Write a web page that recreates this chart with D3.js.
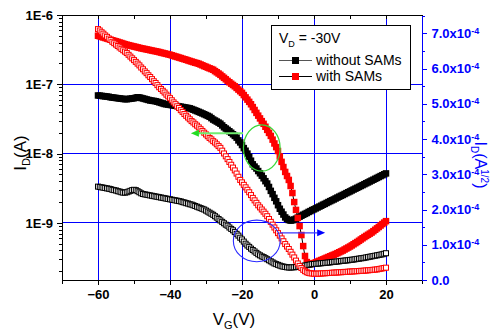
<!DOCTYPE html>
<html><head><meta charset="utf-8">
<script src="https://cdn.jsdelivr.net/npm/d3@7"></script>
<style>
body{margin:0;background:#fff;}
svg{display:block;font-family:Arial,"Liberation Sans",sans-serif;}
</style></head>
<body>
<script>
// ---- data ----
// gate voltage sweep (V), 0.5 V steps from -60 to 20
const vgStart = -60, vgStep = 0.5, vgCount = 161;
const vg = d3.range(vgCount).map(i => vgStart + i * vgStep);

// I_D (nA), log plot, without SAMs (filled black)
const idNoSamNA = [69,68.5,68,67.5,67,66.5,66,65,64.5,64,
63.5,63,62.5,62,61.5,61,61,61.5,62,62.5,
63,64,65,64.5,63.5,62.5,61.5,60.5,59.5,58.5,
58,57.5,57,56,55,54,53,52,51.5,51,
50.5,50,49.5,49,48.5,48,47.5,47,46.5,46,
45.5,45,44,43,42,41,40,39,38,37,
36,35,34,32.5,31,30,29,28,27,25.5,
24,23,22,21,20,19,18,17,15.5,14.5,
13.3,12,11,10,9,7.9,7,6.5,6.1,5.6,
5.2,4.8,4.4,4,3.7,3.3,2.9,2.6,2.3,2.05,
1.8,1.6,1.45,1.32,1.2,1.14,1.1,1.08,1.09,1.12,
1.15,1.19,1.23,1.27,1.31,1.35,1.39,1.44,1.48,1.53,
1.57,1.62,1.67,1.72,1.77,1.83,1.88,1.94,2,2.06,
2.12,2.18,2.25,2.32,2.39,2.46,2.53,2.61,2.69,2.77,
2.85,2.94,3.03,3.12,3.21,3.31,3.41,3.51,3.62,3.73,
3.84,3.96,4.08,4.2,4.33,4.46,4.6,4.74,4.88,5.03,
5.18];

// I_D (nA), log plot, with SAMs (filled red)
const idSamNA = [502,493,483,474,466,457,449,440,432,
424,417,409,401,394,386,379,372,
367,361,356,351,346,341,336,331,
327,323,319,315,311,307,303,300,
296,292,287,283,279,275,271,267,
262,257,252,248,243,239,234,230,
226,221,217,213,209,205,202,198,
193,188,183,179,174,170,166,162,
155,149,143,137,130,124,118,112,
107,102,97.7,93.5,88.6,83.9,79.5,75.3,
69.9,64.8,60.1,55.8,51.5,46.9,42.6,38.7,
35.3,32.2,29.4,26.9,24.4,22,19.9,18,
15.9,14,12.4,10.9,9.1,7.6,6.4,5.44,
4.75,4.17,3.41,2.7,2,1.54,1.18,0.9,
0.668,0.463,0.333,0.272,0.255,0.255,0.259,0.263,
0.27,0.277,0.284,0.291,0.298,0.306,0.314,0.322,
0.33,0.339,0.347,0.356,0.366,0.377,0.388,0.399,
0.413,0.427,0.441,0.456,0.473,0.492,0.511,0.53,
0.552,0.576,0.6,0.625,0.649,0.674,0.7,0.726,
0.76,0.796,0.834,0.873,0.917,0.963,1.01,1.06];

// sqrt(I_D) in units of 1e-4 A^1/2, without SAMs (open black)
const sqrtNoSam = [2.65,2.64,2.63,2.62,2.61,2.60,2.59,2.58,2.56,2.55,
2.54,2.52,2.51,2.49,2.48,2.48,2.49,2.51,2.53,2.55,
2.56,2.55,2.52,2.49,2.46,2.44,2.43,2.42,2.41,2.40,
2.39,2.38,2.37,2.36,2.35,2.34,2.33,2.32,2.31,2.30,
2.29,2.28,2.27,2.26,2.25,2.24,2.23,2.21,2.20,2.18,
2.17,2.15,2.14,2.12,2.10,2.08,2.06,2.04,2.02,2.00,
1.97,1.94,1.91,1.88,1.85,1.81,1.77,1.73,1.69,1.65,
1.61,1.57,1.54,1.49,1.45,1.41,1.36,1.31,1.26,1.20,
1.15,1.09,1.03,0.98,0.94,0.89,0.85,0.81,0.77,0.73,
0.70,0.67,0.65,0.62,0.59,0.56,0.53,0.50,0.47,0.45,
0.43,0.41,0.39,0.38,0.37,0.36,0.355,0.355,0.36,0.36,
0.37,0.375,0.38,0.39,0.40,0.41,0.42,0.43,0.44,0.45,
0.455,0.46,0.465,0.47,0.475,0.48,0.485,0.49,0.495,0.50,
0.51,0.515,0.52,0.525,0.53,0.54,0.545,0.55,0.555,0.56,
0.57,0.575,0.58,0.59,0.60,0.605,0.615,0.62,0.63,0.64,
0.65,0.66,0.67,0.68,0.69,0.70,0.71,0.72,0.73,0.745,
0.76];

// sqrt(I_D) in units of 1e-4 A^1/2, with SAMs (open red)
const sqrtSam = [7.12,7.08,7.03,6.99,6.94,6.90,6.85,6.81,6.76,6.72,
6.68,6.64,6.60,6.56,6.52,6.48,6.44,6.39,6.34,6.29,
6.24,6.19,6.14,6.09,6.03,5.98,5.92,5.87,5.81,5.76,
5.70,5.64,5.59,5.53,5.47,5.42,5.37,5.32,5.26,5.21,
5.16,5.10,5.04,4.99,4.93,4.88,4.82,4.77,4.71,4.66,
4.61,4.56,4.51,4.47,4.42,4.38,4.33,4.28,4.23,4.18,
4.13,4.08,4.03,3.99,3.94,3.90,3.85,3.80,3.75,3.67,
3.59,3.51,3.43,3.35,3.27,3.19,3.11,3.02,2.93,2.84,
2.77,2.70,2.63,2.56,2.49,2.41,2.33,2.26,2.19,2.12,
2.06,2.00,1.94,1.88,1.81,1.73,1.65,1.57,1.49,1.41,
1.33,1.26,1.18,1.10,1.02,0.95,0.88,0.80,0.72,0.64,
0.55,0.47,0.40,0.34,0.29,0.25,0.22,0.20,0.19,0.185,
0.18,0.18,0.18,0.18,0.185,0.19,0.19,0.195,0.20,0.20,
0.205,0.21,0.21,0.215,0.22,0.22,0.225,0.23,0.23,0.235,
0.24,0.24,0.245,0.25,0.25,0.255,0.26,0.26,0.265,0.27,
0.275,0.28,0.285,0.29,0.295,0.30,0.31,0.32,0.33,0.34,
0.35];

// ticks
const xMajor = [-60,-40,-20,0,20];
const xMinor = [-70,-50,-30,-10,10,30];
const logMajor = [1e-6,1e-7,1e-8,1e-9];
const logMajorLabels = ["1E-6","1E-7","1E-8","1E-9"];
const rightMajor = [0,1,2,3,4,5,6,7];
const rightMinor = [0.5,1.5,2.5,3.5,4.5,5.5,6.5,7.5];
const legendLabels = ["without SAMs","with SAMs"];

// ---- layout ----
const W = 490, H = 330;
const L = 62, R = 422, T = 15, B = 280;
const BLUE = "#0000ff";

const svg = d3.select("body").append("svg").attr("width", W).attr("height", H);

const x = d3.scaleLinear().domain([-70, 30]).range([L, R]);
const yL = d3.scaleLog().domain([1.5e-10, 1e-6]).range([B, T]);
const yR = d3.scaleLinear().domain([0, 7.52]).range([B, T]); // units 1e-4

const crisp = v => Math.floor(v) + 0.5;

// grid
const grid = svg.append("g").attr("shape-rendering", "crispEdges");
grid.selectAll("line.v").data(xMajor).enter().append("line")
  .attr("x1", d => crisp(x(d))).attr("x2", d => crisp(x(d))).attr("y1", T).attr("y2", B)
  .attr("stroke", BLUE).attr("stroke-width", 1);
grid.selectAll("line.h").data(logMajor.slice(1)).enter().append("line")
  .attr("x1", L).attr("x2", R).attr("y1", d => crisp(yL(d))).attr("y2", d => crisp(yL(d)))
  .attr("stroke", BLUE).attr("stroke-width", 1);

// series
const S = 6.5, So = 5;
function filledSeries(vals, color, lineColor) {
  const pts = vg.map((v, i) => [x(v), yL(vals[i] * 1e-9)]);
  svg.append("path").attr("d", d3.line()(pts)).attr("fill", "none")
    .attr("stroke", lineColor).attr("stroke-width", 1);
  svg.append("g").selectAll("rect").data(pts).enter().append("rect")
    .attr("x", d => d[0] - S / 2).attr("y", d => d[1] - S / 2)
    .attr("width", S).attr("height", S).attr("fill", color);
}
function openSeries(vals, color) {
  const pts = vg.map((v, i) => [x(v), yR(vals[i])]);
  svg.append("g").selectAll("rect").data(pts).enter().append("rect")
    .attr("x", d => d[0] - So / 2).attr("y", d => d[1] - So / 2)
    .attr("width", So).attr("height", So).attr("fill", "#fff")
    .attr("stroke", color).attr("stroke-width", 1);
}
filledSeries(idNoSamNA, "#000", "#000");
filledSeries(idSamNA, "#ff0000", "#000");
openSeries(sqrtNoSam, "#000");
openSeries(sqrtSam, "#ff0000");

// annotations (data coordinates)
const greenEllipse = {v0: -19.6, v1: -9.4, i0: 5.6e-9, i1: 2.6e-8};
const greenArrow = {vFrom: -19.7, vTo: -34.2, i: 1.97e-8};
const blueEllipse = {v0: -22.4, v1: -9.4, s0: 0.52, s1: 1.70};
const blueArrow = {vFrom: -9.4, vTo: 3.1, s: 1.34};

{
  const cx = (x(greenEllipse.v0) + x(greenEllipse.v1)) / 2;
  const cy = (yL(greenEllipse.i0) + yL(greenEllipse.i1)) / 2;
  svg.append("ellipse").attr("cx", cx).attr("cy", cy)
    .attr("rx", (x(greenEllipse.v1) - x(greenEllipse.v0)) / 2)
    .attr("ry", (yL(greenEllipse.i0) - yL(greenEllipse.i1)) / 2)
    .attr("fill", "none").attr("stroke", "#3ad83a").attr("stroke-width", 1.2);
  const ay = yL(greenArrow.i), ax0 = x(greenArrow.vFrom), ax1 = x(greenArrow.vTo);
  svg.append("line").attr("x1", ax0).attr("x2", ax1 + 6).attr("y1", ay).attr("y2", ay)
    .attr("stroke", "#70ee70").attr("stroke-width", 2);
  svg.append("path").attr("d", `M${ax1},${ay} L${ax1 + 8},${ay - 3.5} L${ax1 + 8},${ay + 3.5} Z`)
    .attr("fill", "#22dd22");
}
{
  const cx = (x(blueEllipse.v0) + x(blueEllipse.v1)) / 2;
  const cy = (yR(blueEllipse.s0) + yR(blueEllipse.s1)) / 2;
  svg.append("ellipse").attr("cx", cx).attr("cy", cy)
    .attr("rx", (x(blueEllipse.v1) - x(blueEllipse.v0)) / 2)
    .attr("ry", (yR(blueEllipse.s0) - yR(blueEllipse.s1)) / 2)
    .attr("fill", "none").attr("stroke", "#2a2aff").attr("stroke-width", 1.1);
  const ay = yR(blueArrow.s), ax0 = x(blueArrow.vFrom), ax1 = x(blueArrow.vTo);
  svg.append("line").attr("x1", ax0).attr("x2", ax1 - 6).attr("y1", ay).attr("y2", ay)
    .attr("stroke", "#3a3aff").attr("stroke-width", 1.3);
  svg.append("path").attr("d", `M${ax1},${ay} L${ax1 - 8},${ay - 3.5} L${ax1 - 8},${ay + 3.5} Z`)
    .attr("fill", BLUE);
}

// axes
function styleAxis(g, color) {
  g.attr("shape-rendering", "crispEdges");
  g.selectAll("path.domain").attr("stroke", color).attr("stroke-width", 1);
  g.selectAll(".tick line").attr("stroke", color).attr("stroke-width", 1);
  g.selectAll(".tick text").attr("fill", color).attr("font-size", 13)
    .attr("font-weight", "bold").attr("font-family", "Arial, 'Liberation Sans', sans-serif");
}
// bottom
const gxb = svg.append("g").attr("transform", `translate(0,${B})`)
  .call(d3.axisBottom(x).tickValues(xMajor).tickFormat(d3.format("d")).tickSize(5).tickSizeOuter(0).tickPadding(5));
styleAxis(gxb, "#000");
const gxbm = svg.append("g").attr("transform", `translate(0,${B})`)
  .call(d3.axisBottom(x).tickValues(xMinor).tickFormat("").tickSize(4).tickSizeOuter(0));
styleAxis(gxbm, "#000"); gxbm.select("path.domain").remove();
// top (inward ticks)
const gxt = svg.append("g").attr("transform", `translate(0,${T})`)
  .call(d3.axisBottom(x).tickValues(xMajor.concat(xMinor)).tickFormat("").tickSize(4).tickSizeOuter(0));
styleAxis(gxt, "#000");
// left
const gyl = svg.append("g").attr("transform", `translate(${L},0)`)
  .call(d3.axisLeft(yL).tickValues(logMajor).tickFormat((d, i) => logMajorLabels[i]).tickSize(5).tickSizeOuter(0).tickPadding(4));
styleAxis(gyl, "#000");
const logMinor = [];
[1e-10, 1e-9, 1e-8, 1e-7].forEach(dec => { for (let k = 2; k <= 9; k++) { const v = k * dec; if (v >= 1.5e-10 && v < 1e-6) logMinor.push(v); } });
const gylm = svg.append("g").attr("transform", `translate(${L},0)`)
  .call(d3.axisLeft(yL).tickValues(logMinor).tickFormat("").tickSize(3).tickSizeOuter(0));
styleAxis(gylm, "#000"); gylm.select("path.domain").remove();
// right
const gyr = svg.append("g").attr("transform", `translate(${R},0)`)
  .call(d3.axisRight(yR).tickValues(rightMajor).tickSize(5).tickSizeOuter(0).tickPadding(4.5));
styleAxis(gyr, BLUE);
gyr.selectAll(".tick text").each(function(d) {
  const t = d3.select(this); t.text(null);
  if (d === 0) { t.text("0.0"); return; }
  t.append("tspan").text(d.toFixed(1) + "x10");
  t.append("tspan").attr("dy", "-0.45em").attr("font-size", 9).text("-4");
});
const gyrm = svg.append("g").attr("transform", `translate(${R},0)`)
  .call(d3.axisRight(yR).tickValues(rightMinor).tickFormat("").tickSize(3).tickSizeOuter(0));
styleAxis(gyrm, BLUE); gyrm.select("path.domain").remove();

// axis titles
const xt = svg.append("text").attr("x", 234).attr("y", 325).attr("text-anchor", "middle")
  .attr("font-size", 17).attr("fill", "#000");
xt.append("tspan").text("V");
xt.append("tspan").attr("font-size", 11).attr("dy", 4).text("G");
xt.append("tspan").attr("dy", -4).text("(V)");

const ylt = svg.append("text").attr("transform", "translate(26,153) rotate(-90)")
  .attr("text-anchor", "middle").attr("font-size", 17).attr("fill", "#000");
ylt.append("tspan").text("I");
ylt.append("tspan").attr("font-size", 11).attr("dy", 4).text("D");
ylt.append("tspan").attr("dy", -4).text("(A)");

const yrt = svg.append("text").attr("transform", "translate(475,165) rotate(90)")
  .attr("text-anchor", "middle").attr("font-size", 16).attr("fill", BLUE);
yrt.append("tspan").text("I");
yrt.append("tspan").attr("font-size", 10).attr("dy", 4).text("D");
yrt.append("tspan").attr("dy", -4).text("(A");
yrt.append("tspan").attr("font-size", 10).attr("dy", -6).text("1/2");
yrt.append("tspan").attr("dy", 6).text(")");

// legend
const lg = svg.append("g");
lg.append("rect").attr("x", 271.5).attr("y", 25.5).attr("width", 139).attr("height", 64)
  .attr("fill", "#fff").attr("stroke", "#000").attr("stroke-width", 1);
const vt = lg.append("text").attr("x", 279).attr("y", 43).attr("font-size", 14);
vt.append("tspan").text("V");
vt.append("tspan").attr("font-size", 9).attr("dy", 4).text("D");
vt.append("tspan").attr("dy", -4).text(" = -30V");
const legRows = [{y: 60.5, fill: "#000", line: "#555", label: legendLabels[0]},
                 {y: 76.5, fill: "#ff0000", line: "#000", label: legendLabels[1]}];
legRows.forEach(r => {
  lg.append("line").attr("x1", 279).attr("x2", 312).attr("y1", r.y).attr("y2", r.y)
    .attr("stroke", r.line).attr("stroke-width", 1);
  lg.append("rect").attr("x", 292).attr("y", r.y - 3.5).attr("width", 7).attr("height", 7).attr("fill", r.fill);
  lg.append("text").attr("x", 316).attr("y", r.y + 4.5).attr("font-size", 14).text(r.label);
});
</script>
</body></html>
